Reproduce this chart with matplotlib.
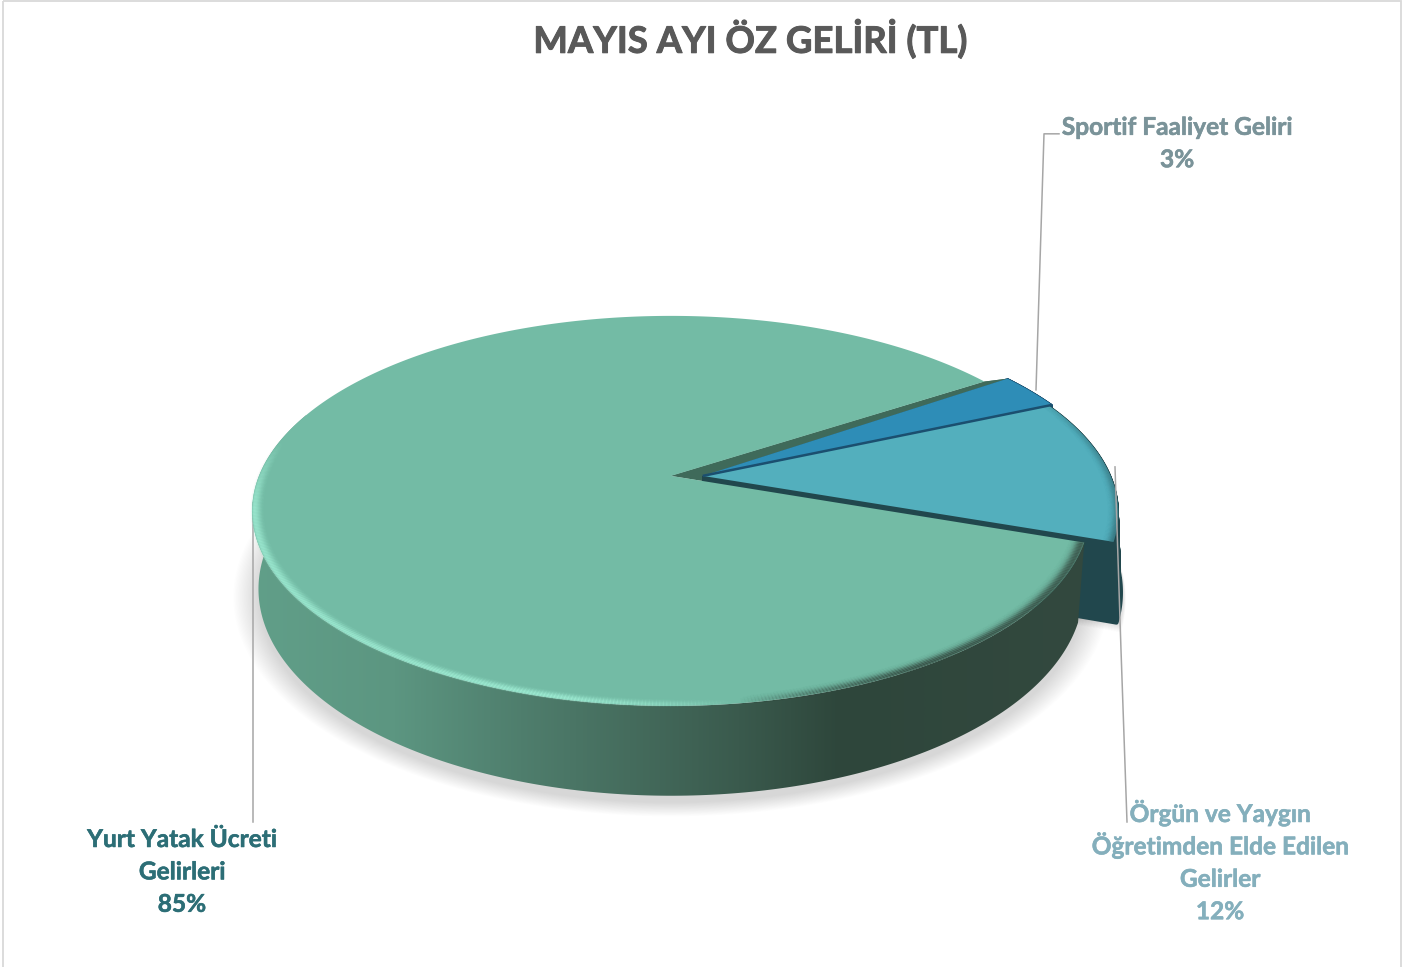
import numpy as np
import matplotlib
matplotlib.use("Agg")
import matplotlib.pyplot as plt
import matplotlib.patheffects as pe
from matplotlib.collections import LineCollection
from matplotlib.colors import to_rgb, LinearSegmentedColormap
from matplotlib.patches import Polygon, Rectangle

# --- data ---
title = "MAYIS AYI ÖZ GELİRİ (TL)"
categories = ["Sportif Faaliyet Geliri", "Örgün ve Yaygın\nÖğretimden Elde Edilen\nGelirler", "Yurt Yatak Ücreti\nGelirleri"]
shares = [3, 12, 85]
top_colors = ["#2E8DB7", "#53AFBD", "#73BBA5"]
wall_colors = ["#1B4F6F", "#21474D", "#3F6A5A"]
label_colors = ["#7A9399", "#84AFBC", "#2C6E76"]
explode = [0.077, 0.077, 0.0]
radius = [1.0, 0.99, 1.0]

# --- projection of the tilted disc (pixel canvas) ---
START = 34.6
MAIN_GAP = 1.3
CX, CY, A, B, K = 671.0, 476.0, 412.0, 188.7, 0.1795
BOT_CY, BOT_XS, BOT_YS, BOT_D = 552.0, 0.985, 1.06, 0.012


def project(u, v, bottom=False):
    w = 1 - K * v
    if bottom:
        return CX + BOT_XS * A * u / w, BOT_CY + BOT_YS * B * v / w
    return CX + A * u / w, CY + B * v / w


def rim(t0, t1, d=0.0, r=1.0, bottom=False, n=240):
    t = np.radians(np.linspace(t0, t1, n))
    x, y = project(r * np.cos(t) + d, -r * np.sin(t), bottom)
    return np.column_stack([x, y])


fig = plt.figure(figsize=(14.05, 9.672), dpi=100)
ax = fig.add_axes([0, 0, 1, 1])
ax.set_axis_off()

# slice angles, clockwise from START
ends = START - 3.6 * np.cumsum(shares)
starts = np.r_[START, ends[:-1]]
main_a, main_b = starts[2], ends[2] - MAIN_GAP

# soft shadow
shadow_base = rim(0, 360, 0, 1, True)
for i in range(20):
    s = 1.0 + 0.0032 * i
    c = shadow_base.mean(axis=0)
    poly = (shadow_base - c) * s + c + np.array([0, 7])
    ax.add_patch(Polygon(poly, closed=True, fc="black", ec="none", alpha=0.009, zorder=1))
ob = np.vstack([[project(explode[1], 0, True)], rim(starts[1], ends[1], explode[1] + BOT_D, 1, True)])
for i in range(14):
    c = ob.mean(axis=0)
    ax.add_patch(Polygon((ob - c) * (1 + 0.007 * i) + c + np.array([3, 3]), closed=True,
                         fc="black", ec="none", alpha=0.009, zorder=1))


def extruded_wall(i, z):
    d = explode[i]
    top = np.vstack([[project(d, 0)], rim(starts[i], ends[i], d, radius[i])])
    bot = np.vstack([[project(d, 0, True)], rim(starts[i], ends[i], d + BOT_D, 1, True)])
    ax.add_patch(Polygon(bot, closed=True, fc=wall_colors[i], ec=wall_colors[i], lw=3,
                         joinstyle="round", zorder=z))
    m = len(top)
    for j in range(m):
        k = (j + 1) % m
        ax.add_patch(Polygon([top[j], top[k], bot[k], bot[j]], closed=True, fc=wall_colors[i],
                             ec=wall_colors[i], lw=0.8, zorder=z))


extruded_wall(0, 2)
extruded_wall(1, 3)

# exploded slice tops
for i, z in ((1, 4), (0, 5)):
    d = explode[i]
    pts = np.vstack([[project(d, 0)], rim(starts[i], ends[i], d, radius[i])])
    ax.add_patch(Polygon(pts, closed=True, fc=top_colors[i], ec="none", zorder=z))

# dark line between sportif and the next slice
ax.plot(*zip(project(explode[1], 0), rim(ends[0], ends[0], explode[1], 1, n=1)[0]),
        color=wall_colors[0], lw=1.8, zorder=6, solid_capstyle="butt")

# dark sliver along the open side of the main slice
p0 = np.array(project(0, 0))
p1 = np.array(project(explode[0], 0))
lower = rim(main_a, main_a, 0, n=1)[0]
lower_pt = p0 + (lower - p0) * ((p1[0] - p0[0]) / (lower[0] - p0[0])) * 1.15
sl = np.vstack([p0, rim(main_b, main_b, 0, n=1), rim(START, START, explode[0], n=1), p1, lower_pt])
ax.add_patch(Polygon(sl, closed=True, fc=wall_colors[2], ec="none", zorder=2.5))
ax.add_patch(Polygon(sl[:4], closed=True, fc=wall_colors[2], ec="none", zorder=4.5))

# main slice wall with horizontal gradient
wall_stops = [(0.0, "#619F89"), (0.17, "#5C9681"), (0.32, "#4F7E6D"), (0.45, "#456C5D"),
              (0.58, "#3A5A4D"), (0.70, "#2E463B"), (1.0, "#33493F")]
cmap = LinearSegmentedColormap.from_list("wall", wall_stops)
wall_pts = np.vstack([rim(main_a, -200, 0), rim(-200, main_a, 0, 1, True)])
img = ax.imshow(np.linspace(0, 1, 512)[None, :], cmap=cmap, extent=(250, 1095, 800, 300),
                aspect="auto", zorder=7, interpolation="bilinear")
clip = Polygon(wall_pts, closed=True, transform=ax.transData, fc="none", ec="none")
ax.add_patch(clip)
img.set_clip_path(clip)

# main slice top
pts = np.vstack([[project(0, 0)], rim(main_a, main_b, 0, n=600)])
ax.add_patch(Polygon(pts, closed=True, fc=top_colors[2], ec="none", zorder=8))

# bevel on the rim of the main slice
light = np.array(to_rgb("#A4F2D9"))
dark = np.array(to_rgb("#33483F"))
for r in np.arange(1.003, 0.962, -0.002):
    prof = np.exp(-((r - 0.996) / (0.004 if r > 0.996 else 0.013)) ** 2)
    p = rim(main_a, main_a - 205, 0, r, n=500)
    segs = np.stack([p[:-1], p[1:]], axis=1)
    xm = segs[:, :, 0].mean(axis=1)
    ym = segs[:, :, 1].mean(axis=1)
    rgba = np.zeros((len(xm), 4))
    t_dark = np.clip((xm - 740) / 180, 0, 1)
    t_light = np.clip((740 - xm) / 180, 0, 1) * np.clip((ym - 440) / 70, 0, 1)
    rgba[:, :3] = np.where(t_dark[:, None] > 0, dark[None, :], light[None, :])
    rgba[:, 3] = np.maximum(t_dark * 0.42, t_light * 0.38) * prof
    ax.add_collection(LineCollection(segs, colors=rgba, linewidths=1.1, zorder=9, capstyle="round"))

# bevel on the rim of the 12% slice
for r in np.arange(0.99, 0.965, -0.002):
    prof = np.exp(-((r - 0.99) / 0.012) ** 2)
    p = rim(starts[1], ends[1], explode[1], r, n=120)
    segs = np.stack([p[:-1], p[1:]], axis=1)
    rgba = np.zeros((len(segs), 4))
    rgba[:, :3] = to_rgb(wall_colors[1])
    rgba[:, 3] = np.linspace(0.03, 0.35, len(segs)) * prof
    ax.add_collection(LineCollection(segs, colors=rgba, linewidths=1.1, zorder=5.5))

# leader lines
leader = "#A6A6A6"
ax.plot([1059, 1044, 1036], [134, 134, 390], color=leader, lw=1.1, zorder=10)
ax.plot([1115, 1121, 1127], [467, 650, 822], color=leader, lw=1.1, zorder=10)
ax.plot([252.5, 252.5], [503, 822], color=leader, lw=1.1, zorder=6)


# labels
def label(x, baseline, idx):
    lines = categories[idx].split("\n") + [f"{shares[idx]}%"]
    for n, line in enumerate(lines):
        t = ax.text(x, baseline + 32.4 * n, line, family="Lato", weight="bold", fontsize=17.6,
                    ha="center", va="baseline", color=label_colors[idx], zorder=11)
        t.set_path_effects([pe.withStroke(linewidth=0.4, foreground=label_colors[idx])])


label(1177, 135, 0)
label(1220, 822, 1)
label(182, 847, 2)
tt = ax.text(750, 53, title, family="Lato", weight="bold", fontsize=26.3, color="#595959",
             ha="center", va="baseline", zorder=11)
tt.set_path_effects([pe.withStroke(linewidth=0.7, foreground="#595959")])

# chart frame
ax.add_patch(Rectangle((2.5, 1.5), 1398, 1000, fc="none", ec="#D9D9D9", lw=1.3, zorder=0.5))

ax.set_xlim(0, 1405)
ax.set_ylim(967, 0)
fig.savefig("out.png", dpi=100, facecolor="white")
